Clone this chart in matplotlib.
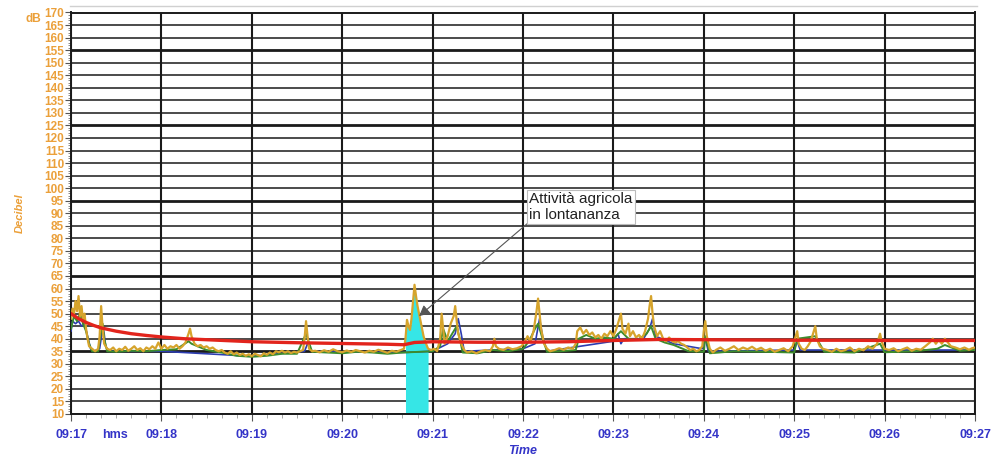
import matplotlib
matplotlib.use('Agg')
import matplotlib.pyplot as plt
from matplotlib.lines import Line2D

# ── Palette ──────────────────────────────────────────────────────────────────
ORANGE_TXT = '#eba03a'
BLUE_TXT   = '#3434c8'
YELLOW     = '#d6a42c'
GREEN      = '#3c8c2c'
BLUE       = '#2c3cb0'
RED        = '#e2241c'
CYAN       = '#36e6e6'
FONT       = 'Liberation Sans'

# ── Data (seconds after 09:17) ───────────────────────────────────────────────
yellow_t = [0, 1, 2, 3, 4, 5, 6, 7, 8, 9, 10, 11, 12, 14, 16, 18, 19, 20, 21, 22,
            24, 26, 28, 30, 32, 34, 36, 38, 40, 42, 44, 46, 48, 50, 52, 54, 56, 58,
            60, 62, 64, 66, 68, 70, 72, 74, 76, 78, 79, 80, 82, 84, 86, 88, 90, 92,
            94, 96, 98, 100, 102, 104, 106, 108, 110, 112, 114, 116, 118, 120, 122,
            124, 126, 128, 130, 132, 134, 136, 138, 140, 142, 144, 146, 148, 150,
            152, 154, 155, 156, 157, 158, 160, 162, 165, 168, 171, 174, 177, 180,
            183, 186, 189, 192, 195, 198, 201, 204, 207, 210, 213, 216, 219, 221,
            222, 223, 224, 225, 226, 227, 228, 229, 230, 231, 232, 233, 234, 235,
            236, 237, 239, 241, 243, 245, 246, 247, 248, 250, 252, 254, 255, 256,
            257, 259, 261, 263, 266, 269, 272, 275, 278, 280, 281, 282, 284, 287,
            290, 293, 296, 299, 301, 303, 305, 307, 309, 310, 311, 312, 314, 316,
            318, 321, 324, 327, 330, 333, 335, 336, 338, 340, 342, 344, 346, 348,
            350, 352, 354, 356, 358, 360, 362, 364, 365, 366, 368, 370, 371, 373,
            375, 377, 379, 381, 383, 384, 385, 386, 387, 389, 391, 393, 395, 397,
            399, 401, 403, 405, 407, 409, 411, 413, 415, 417, 419, 420, 421, 422,
            424, 426, 428, 431, 434, 437, 440, 443, 446, 449, 452, 455, 458, 461,
            464, 467, 470, 473, 476, 479, 481, 482, 483, 485, 487, 489, 491, 493,
            494, 495, 497, 499, 502, 505, 508, 511, 514, 517, 520, 523, 526, 529,
            532, 535, 537, 538, 540, 543, 546, 549, 552, 555, 558, 561, 564, 567,
            570, 572, 574, 576, 578, 580, 582, 584, 587, 590, 593, 596, 598, 600]
yellow_db = [48, 52, 50, 55, 51, 57, 49, 53, 47, 50, 44, 40, 37, 36, 35, 36, 41, 53, 44, 38,
             36, 35.5, 36.5, 35, 36, 35.5, 36.8, 35.2, 36, 37, 35.5, 36.2, 35, 36.5, 35.8, 37, 36, 38.5,
             36, 37.5, 36, 37, 36.5, 37.5, 36, 37, 38.5, 42, 44, 41, 38, 37, 37.5, 36.5, 37, 36,
             36.5, 35.5, 35, 35.5, 34.5, 34, 35, 33.8, 34.5, 33.5, 34, 33.2, 33.8, 33, 34,
             33.5, 33, 34.2, 33.6, 34.5, 33.8, 35, 34.6, 35.2, 34.5, 35, 34.3, 34.8, 34.5,
             35, 35.5, 40, 47, 41, 36, 35, 35.2, 34.6, 35.4, 34.8, 35.8, 35, 34.6,
             35.3, 34.7, 35.5, 35, 34.5, 35.2, 34.8, 35.6, 35, 34.4, 35.2, 34.8, 35.5, 36,
             40, 47.5, 45, 43.5, 48, 55, 61.5, 57, 53, 50, 47, 44, 41, 39,
             37.5, 36, 35.5, 36, 35, 40, 50, 44, 38, 41, 46, 49, 53, 47,
             42, 38, 35.5, 34.5, 35, 34.2, 35, 35.5, 35, 37, 40, 37, 36, 35.5,
             36.5, 35.8, 36.2, 37, 38.5, 41, 39, 43, 51, 56, 50, 44, 38, 36,
             35, 35.5, 36.2, 35.6, 36.5, 36, 38, 43, 44.5, 42, 43.5, 41.5, 42.5, 40.5,
             41.5, 40, 42, 41, 43, 41, 44, 48, 50, 44, 42, 46, 41, 43,
             40.5, 41.5, 40, 43, 48, 53, 57, 50, 45, 41, 43, 40, 39, 40.5,
             39, 38.5, 39, 38, 37.5, 36.5, 35.5, 36, 35, 35.5, 37, 43, 47, 41,
             36, 34.5, 35.5, 36.5, 35.2, 36, 37, 35.5, 36.5, 35.8, 36.8, 35.6, 36.4, 35.2,
             36, 34.8, 35.5, 36.2, 35, 37, 41, 43, 38, 36, 35.5, 37, 39, 43,
             45, 40, 37, 36, 35.5, 34.8, 36, 35, 35.5, 36.5, 35, 36, 35.4, 37,
             36, 38, 42, 39, 36, 35.5, 36.2, 35, 35.8, 36.5, 35.2, 36, 35.6, 37,
             38.5, 40, 38, 39.5, 38, 40, 38.5, 37, 36.5, 35.8, 36.5, 35.6, 36.2, 36.5]

green_t = [0, 2, 4, 6, 8, 10, 12, 14, 18, 20, 21, 22, 24, 30, 40, 50, 60, 70, 78, 80,
           90, 100, 110, 120, 130, 140, 150, 156, 160, 170, 180, 190, 200, 210, 220,
           240, 245, 247, 250, 253, 256, 258, 260, 270, 280, 290, 300, 304, 308, 310,
           313, 316, 325, 335, 337, 342, 348, 354, 360, 365, 370, 376, 382, 385, 388,
           394, 400, 410, 420, 421, 424, 440, 460, 480, 482, 494, 500, 520, 537, 540,
           560, 575, 580, 590, 600]
green_db = [44, 49, 47, 50, 46, 43, 38, 35, 35, 43, 46, 40, 35, 34.8, 35.2, 35, 35.5, 35.8, 39, 38,
            35.5, 34.5, 33.2, 32.8, 33.2, 34, 34, 42, 34.8, 34.5, 34.2, 34.8, 34.5, 34, 34.5,
            35, 37, 44, 39, 42, 45, 40, 34.5, 34.2, 35.5, 35, 36, 39, 44, 46,
            40, 34.8, 35, 35.5, 40, 41.5, 40, 40.5, 40, 43, 40, 39.5, 42, 45, 40,
            38.5, 37.5, 35, 34.8, 41, 34.2, 35, 34.8, 34.5, 40, 41, 34.8, 34.5, 38, 34.6,
            35, 36, 37.5, 35.2, 35.5]

blue_t = [0, 1, 3, 5, 7, 9, 11, 13, 15, 19, 20, 21, 22, 23, 25, 60, 120, 155, 157, 158,
          160, 220, 240, 250, 255, 257, 259, 261, 300, 308, 311, 313, 316, 360, 363, 365,
          367, 380, 384, 386, 388, 400, 419, 421, 423, 480, 482, 484, 600]
blue_db = [43, 47, 46, 47, 45, 46, 41, 36, 35, 36, 40, 45, 42, 37, 35, 35, 33, 35, 38, 37,
           35, 34.5, 35, 38, 42, 48, 42, 35, 36, 38, 48, 41, 35, 39, 42, 38,
           40, 40, 44, 48, 41, 38, 36, 40, 35, 35.5, 39, 35.5, 35.5]

red_t = [0, 5, 10, 15, 20, 30, 40, 50, 60, 75, 90, 105, 120, 150, 180, 210, 221,
         228, 240, 270, 300, 330, 360, 390, 420, 450, 480, 510, 540, 570, 600]
red_db = [50, 48, 46.5, 45.3, 44.3, 43, 42, 41.3, 40.7, 40, 39.6, 39.2, 38.8, 38.4, 38.1,
          37.8, 37.6, 38.5, 38.8, 38.6, 38.6, 38.8, 39.3, 39.7, 39.6, 39.5, 39.4, 39.4,
          39.3, 39.3, 39.3]

# masked (excluded) event
cyan_t  = [222, 223, 224, 225, 226, 227, 228, 229, 230, 231, 232, 233, 234, 235, 236, 237]
cyan_db = [40, 47.5, 45, 43.5, 48, 55, 61.5, 57, 53, 50, 47, 44, 41, 39, 37.5, 36]

tick_secs   = [0, 60, 120, 180, 240, 300, 360, 420, 480, 540, 600]
tick_labels = ['09:17', '09:18', '09:19', '09:20', '09:21', '09:22',
               '09:23', '09:24', '09:25', '09:26', '09:27']
y_levels    = list(range(10, 171, 5))
thick_levels = [35, 65, 95, 125, 155]

# ── Figure ───────────────────────────────────────────────────────────────────
fig = plt.figure(figsize=(9.94, 4.59), dpi=100)
fig.patch.set_facecolor('white')
ax = fig.add_axes([71/994, 1 - 414/459, (975 - 71)/994, (414 - 12.5)/459])
ax.set_xlim(0, 600)
ax.set_ylim(10, 170)

# grid
for lv in y_levels:
    ax.axhline(lv, color='#1a1a1a', lw=2.0 if lv in thick_levels else 1.1, zorder=1)
for s in tick_secs:
    ax.axvline(s, color='#1a1a1a', lw=1.5, zorder=1)

# series
ax.fill_between(cyan_t, 10, cyan_db, color=CYAN, lw=0, zorder=2)
ax.plot(blue_t, blue_db, color=BLUE, lw=1.2, zorder=3)
ax.plot(green_t, green_db, color=GREEN, lw=1.4, zorder=3)
ax.plot(yellow_t, yellow_db, color=YELLOW, lw=1.6, zorder=4)
ax.plot(red_t, red_db, color=RED, lw=2.4, zorder=5)

# axes styling
for sp in ax.spines.values():
    sp.set_color('#1a1a1a')
    sp.set_linewidth(1.4)
ax.set_yticks(y_levels)
ax.set_yticklabels([str(v) for v in y_levels])
ax.set_yticks(range(10, 171), minor=True)
ax.set_xticks(tick_secs)
ax.set_xticklabels(tick_labels)
ax.set_xticks(range(0, 601, 10), minor=True)
ax.tick_params(axis='y', which='major', length=4, width=0.8, colors='#555555',
               labelcolor=ORANGE_TXT, labelsize=8.5, pad=1)
ax.tick_params(axis='y', which='minor', length=2.5, width=0.6, colors='#777777')
ax.tick_params(axis='x', which='major', length=5, width=0.8, colors='#555555',
               labelcolor=BLUE_TXT, labelsize=9, pad=6)
ax.tick_params(axis='x', which='minor', length=3, width=0.6, colors='#999999')
for t in ax.get_yticklabels():
    t.set_fontfamily(FONT)
    t.set_fontweight('bold')
for t in ax.get_xticklabels():
    t.set_fontfamily(FONT)
    t.set_fontweight('bold')

ax.set_ylabel('Decibel', color=ORANGE_TXT, fontsize=8, style='italic',
              family=FONT, fontweight='bold', labelpad=14)
ax.set_xlabel('Time', color=BLUE_TXT, fontsize=9, style='italic',
              family=FONT, fontweight='bold', labelpad=3)
ax.text(29, -0.037, 'hms', transform=ax.get_xaxis_transform(), ha='center', va='top',
        color=BLUE_TXT, fontsize=9, family=FONT, fontweight='bold')
ax.text(-0.033, 167.5, 'dB', transform=ax.get_yaxis_transform(), ha='right', va='center',
        color=ORANGE_TXT, fontsize=8.5, family=FONT, fontweight='bold')

# annotation
ax.annotate('Attività agricola\nin lontananza', xy=(231, 49), xytext=(304, 98.5),
            ha='left', va='top', fontsize=11, family=FONT, color='#222222',
            bbox=dict(boxstyle='square,pad=0.15', fc='white', ec='#bbbbbb', lw=0.8),
            arrowprops=dict(arrowstyle='-|>', color='#555555', lw=0.8,
                            mutation_scale=16, shrinkA=0, shrinkB=0,
                            patchA=None, relpos=(0, 0)),
            zorder=7)

# faint outer frame line at top
fig.add_artist(Line2D([70/994, 977/994], [1 - 6/459, 1 - 6/459],
                      color='#d0d0d0', lw=1.0, transform=fig.transFigure))

fig.savefig('out.png', dpi=100, facecolor='white')
